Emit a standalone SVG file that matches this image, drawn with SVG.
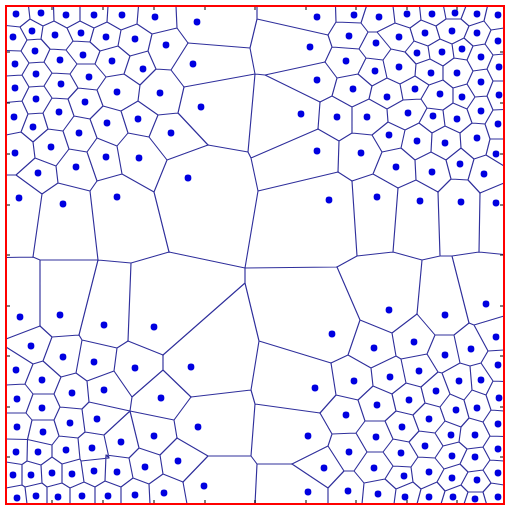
<svg xmlns="http://www.w3.org/2000/svg" width="506" height="507" viewBox="0 0 506 507">
<style>
.e{fill:none;stroke:#30309c;stroke-width:1.15;stroke-linecap:round}
.s circle{fill:#0000e0}
.t{fill:none;stroke:#000;stroke-width:1}
</style>
<defs><circle id="d" r="3.4"/></defs>
<rect width="506" height="507" fill="#fff"/>
<g id="cells">
<path class="e" id="cells-tl" d="M20 27L6 25.5M20 27L30 19M30 19L28.5 6M30 19L43 26M43 26L54 21M54 21L53.5 6M54 21L67 28M67 28L80 21M80 21L80 6M80 21L94 28M94 28L107 22M107 22L108 6M107 22L121 30M121 30L137 24M137 24L138.5 6M137 24L152 34M152 34L177 28M177 28L176 6M152 34L148 51M177 28L188 43M188 43L171 70M148 51L156 69M171 70L156 69M20 27L27 40M27 40L41 39M43 26L41 39M27 40L21 51M21 51L6 50.5M41 39L50 49M50 49L66 50M73 41L66 50M67 28L73 41M73 41L90 42M94 28L90 42M90 42L100 51M100 51L118 46M121 30L118 46M118 46L130 56M130 56L148 51M21 51L29 63M50 49L44 62M29 63L44 62M44 62L52 73M52 73L70 74M70 74L77 64M66 50L77 64M77 64L95 64M100 51L95 64M95 64L106 77M106 77L124 74M130 56L124 74M124 74L140 85M156 69L140 85M29 63L22 75M22 75L6 76M22 75L29 87M29 87L44 86M52 73L44 86M44 86L52 98M52 98L68 99M68 99L78 88M70 74L78 88M78 88L97 90M106 77L97 90M97 90L103 106M103 106L121 111M121 111L138 101M140 85L138 101M138 101L158 115M158 115L178 113M178 113L184 87M184 87L171 70M29 87L22 101M22 101L6 102.5M22 101L28 114M28 114L43 113M52 98L43 113M43 113L48 129M48 129L63 131M63 131L74 116M68 99L74 116M74 116L90 119M103 106L90 119M90 119L97 138M97 138L117 146M117 146L128 133M121 111L128 133M128 133L149 137M158 115L149 137M28 114L21 132M21 132L6 135M21 132L33 142M48 129L33 142M33 142L35 158M35 158L56 166M56 166L69 149M63 131L69 149M69 149L87 152M97 138L87 152M87 152L97 181M97 181L122 174M117 146L122 174M122 174L154 192M154 192L167 160M149 137L167 160M167 160L208 145M178 113L208 145M35 158L16 175M16 175L6 175M16 175L42 194M42 194L58 183M56 166L58 183M58 183L90 191M90 191L97 181M42 194L33 257M90 191L98 260M154 192L169 252"/>
<path class="e" id="cells-tr" d="M336 22L335.5 6M336 22L328 35M336 22L361 23M361 23L366.5 6M361 23L368 32M368 32L359 49M368 32L377 32M377 32L391 49M377 32L395 23M395 23L393 6M395 23L410 28M410 28L414 41M410 28L421 20M421 20L419.5 6M421 20L436 26M436 26L440 39M436 26L446 19M446 19L443.5 6M446 19L461 19M461 19L466 6M461 19L469 26M469 26L464 38M469 26L484 21M484 21L487.5 6M484 21L491 30M491 30L504 28M491 30L485 44M328 35L332 47M332 47L325 62M332 47L359 49M359 49L366 58M366 58L383 60M366 58L358 74M391 49L383 60M391 49L405 52M383 60L387 78M405 52L414 41M405 52L416 64M414 41L428 46M428 46L440 39M428 46L430 59M440 39L452 44M452 44L464 38M452 44L454 58M464 38L473 46M473 46L485 44M473 46L467 60M485 44L493 55M493 55L504 54M493 55L487 69M358 74L337 78M358 74L372 86M372 86L387 78M372 86L369 99M387 78L400 84M400 84L415 76M400 84L403 100M416 64L415 76M416 64L430 59M415 76L429 85M430 59L443 66M443 66L454 58M443 66L443 80M454 58L467 60M467 60L473 71M473 71L487 69M473 71L467 84M487 69L493 81M493 81L504 81M493 81L487 96M443 80L429 85M443 80L453 88M429 85L421 99M453 88L467 84M453 88L453 103M467 84L475 97M487 96L475 97M487 96L493 110M493 110L504 109.5M475 97L467 109M325 62L337 78M337 78L332 96M332 96L352 107M332 96L320 102M320 102L318 129M352 107L369 99M352 107L352 133M369 99L387 109M387 109L403 100M387 109L388 122M403 100L421 99M421 99L427 108M427 108L419 123M427 108L443 110M453 103L443 110M453 103L467 109M443 110L445 126M467 109L472 123M493 110L485 124M485 124L490 139M490 139L504 139M352 133L372 135M352 133L339 141M372 135L388 122M372 135L382 152M388 122L405 130M405 130L419 123M405 130L401 148M419 123L432 133M432 133L445 126M432 133L431 152M445 126L460 133M460 133L472 123M460 133L461 148M472 123L485 124M490 139L486 155M382 152L373 174M382 152L401 148M401 148L415 160M415 160L431 152M415 160L416 180M431 152L446 160M446 160L461 148M446 160L451 179M461 148L474 159M474 159L486 155M474 159L468 180M486 155L504 166M373 174L352 181M373 174L398 188M352 181L338 172M338 172L339 141M339 141L318 129M398 188L416 180M416 180L438 192M438 192L451 179M451 179L468 180M468 180L480 193M480 193L504 183"/>
<path class="e" id="cells-center" d="M257 6L257 19M257 19L328 35M257 19L250 48M250 48L188 43M250 48L255 74M255 74L184 87M255 74L265 75M265 75L325 62M265 75L320 102M255 74L248 152M248 152L208 145M248 152L251 158M251 158L318 129M251 158L258 191M258 191L338 172M258 191L245 268M245 268L169 252M245 268L337 267M245 268L245 283M245 283L163 355M245 283L259 341M259 341L331 363M259 341L251 390M251 390L191 397M251 390L255 404M255 404L320 413M255 404L251 456M251 456L208 456M251 456L257 464M257 464L292 464M257 464L255 504M208 456L177 438M208 456L183 482M337 267L357 256M357 256L352 181M357 256L393 252M393 252L398 188M393 252L422 260M422 260L417 314M422 260L440 256M440 256L438 192M440 256L452 256M452 256L469 323M452 256L479 252M479 252L480 193M479 252L504 254.5M169 252L131 263M131 263L128 341M131 263L98 260M98 260L79 335M98 260L40 260M40 260L40 326M40 260L33 257M33 257L6 257.5"/>
<path class="e" id="cells-bl" d="M40 326L6 339M40 326L52 337M52 337L43 361M52 337L79 335M79 335L82 340M82 340L117 348M82 340L76 373M117 348L128 341M117 348L114 371M128 341L163 355M163 355L163 370M163 370L191 397M163 370L132 397M33 364L6 347M33 364L43 361M33 364L25 384M43 361L61 377M61 377L76 373M61 377L54 394M76 373L87 381M87 381L114 371M87 381L89 402M114 371L132 397M132 397L130 411M130 411L104 435M130 411L89 402M130 411L139 448M130 411L174 420M174 420L177 438M174 420L191 397M177 438L160 455M160 455L139 448M160 455L163 474M163 474L183 482M183 482L187 504M163 474L149 484M25 384L6 385M25 384L33 394M33 394L54 394M33 394L26 413M54 394L60 407M60 407L82 409M60 407L54 420M82 409L89 402M82 409L85 432M26 413L6 413M26 413L32 420M32 420L54 420M32 420L27.5 439.5M54 420L59 436M59 436L52 445M59 436L78 438M78 438L80 459M78 438L85 432M85 432L104 435M104 435L109 458M27.5 439.5L6 439M27.5 439.5L27 461M27.5 439.5L52 445M52 445L52 457M22 464.5L6 462M22 464.5L27 461M22 464.5L22 485M27 461L41 465M41 465L52 457M41 465L42 483M52 457L62 464M62 464L80 459M62 464L62 483M80 459L81 461M81 461L84 482M81 461L109 458M109 458L106 455M106 455L129 458M106 455L105 481M129 458L133 478M129 458L139 448M133 478L149 484M133 478L121 487M149 484L150 504M105 481L121 487M105 481L95 487M121 487L121 504M84 482L70 488M84 482L95 487M95 487L95 504M62 483L47 487M62 483L70 488M70 488L70 504M42 483L25 487M42 483L47 487M47 487L47 504M22 485L6 488M22 485L25 487M25 487L27 504"/>
<path class="e" id="cells-br" d="M337 267L360 320M360 320L392 333M360 320L348 355M392 333L417 314M392 333L396 356M417 314L435 335M435 335L454 335M435 335L427 354M454 335L469 323M454 335L460 363M469 323L474 325M474 325L504 316M474 325L488 351M488 351L504 350M488 351L481 363M481 363L493 381M481 363L470 366M460 363L470 366M460 363L442 373M470 366L472 390M427 354L401 359M427 354L438 372M438 372L442 373M438 372L421 387M442 373L450 394M396 356L371 368M396 356L401 359M401 359L406 383M348 355L331 363M348 355L371 368M371 368L373 386M331 363L336 395M373 386L358 400M373 386L392 394M392 394L406 383M392 394L396 411M406 383L421 387M421 387L425 403M358 400L336 395M358 400L365 421M336 395L320 413M365 421L356 433M365 421L385 421M385 421L396 411M385 421L393 439M396 411L413 415M413 415L425 403M413 415L419 431M425 403L440 407M440 407L450 394M440 407L445 421M450 394L464 400M464 400L472 390M464 400L469 418M472 390L486 395M486 395L493 381M486 395L491 410M493 381L504 381.5M491 410L504 411M491 410L483 422M483 422L469 418M483 422L490 436M490 436L504 436.5M490 436L483 447M469 418L461 427M461 427L445 421M461 427L459 442M445 421L435 433M435 433L443 446M435 433L419 431M419 431L409 442M409 442L418 457M409 442L393 439M393 439L383 452M356 433L367 452M356 433L332 434M332 434L320 413M332 434L328 446M367 452L354 471M367 452L383 452M383 452L393 466M393 466L411 467M393 466L385 479M443 446L459 442M443 446L435 458M435 458L444 469M435 458L418 457M418 457L411 467M411 467L413 482M459 442L467 449M467 449L483 447M467 449L460 464M483 447L490 460M490 460L504 461M490 460L483 470M460 464L444 469M460 464L468 472M468 472L483 470M468 472L461 485M483 470L491 483M444 469L437 482M385 479L364 483M385 479L396 489M396 489L413 482M396 489L394 504M413 482L421 489M421 489L417 504M421 489L437 482M437 482L445 491M445 491L441 504M445 491L461 485M461 485L468 492M468 492L464 504M468 492L483 492M491 483L483 492M491 483L504 485M483 492L486.5 504M354 471L344 471M354 471L364 483M364 483L362 504M344 471L328 446M344 471L328 488M328 488L328 504M328 488L292 464M328 446L292 464"/>
</g>
<g id="sites" class="s">
<circle cx="16" cy="14" r="3.4"/><circle cx="41" cy="13" r="3.4"/><circle cx="66" cy="15" r="3.4"/><circle cx="94" cy="15" r="3.4"/><circle cx="122" cy="15" r="3.4"/><circle cx="155" cy="17" r="3.4"/><circle cx="13" cy="37" r="3.4"/><circle cx="32" cy="31" r="3.4"/><circle cx="55" cy="35" r="3.4"/><circle cx="81" cy="33" r="3.4"/><circle cx="106" cy="37" r="3.4"/><circle cx="135" cy="39" r="3.4"/><circle cx="166" cy="45" r="3.4"/><circle cx="35" cy="51" r="3.4"/><circle cx="60" cy="60" r="3.4"/><circle cx="83" cy="55" r="3.4"/><circle cx="112" cy="61" r="3.4"/><circle cx="143" cy="69" r="3.4"/><circle cx="15" cy="64" r="3.4"/><circle cx="36" cy="74" r="3.4"/><circle cx="61" cy="84" r="3.4"/><circle cx="89" cy="77" r="3.4"/><circle cx="117" cy="92" r="3.4"/><circle cx="160" cy="93" r="3.4"/><circle cx="15" cy="88" r="3.4"/><circle cx="36" cy="99" r="3.4"/><circle cx="59" cy="112" r="3.4"/><circle cx="85" cy="102" r="3.4"/><circle cx="107" cy="123" r="3.4"/><circle cx="138" cy="119" r="3.4"/><circle cx="14" cy="117" r="3.4"/><circle cx="33" cy="127" r="3.4"/><circle cx="79" cy="133" r="3.4"/><circle cx="51" cy="147" r="3.4"/><circle cx="15" cy="153" r="3.4"/><circle cx="76" cy="167" r="3.4"/><circle cx="106" cy="157" r="3.4"/><circle cx="139" cy="158" r="3.4"/><circle cx="197" cy="22" r="3.4"/><circle cx="193" cy="64" r="3.4"/><circle cx="201" cy="107" r="3.4"/><circle cx="171" cy="133" r="3.4"/><circle cx="38" cy="173" r="3.4"/><circle cx="63" cy="204" r="3.4"/><circle cx="19" cy="198" r="3.4"/><circle cx="117" cy="197" r="3.4"/><circle cx="188" cy="178" r="3.4"/>
<circle cx="317" cy="17" r="3.4"/><circle cx="310" cy="47" r="3.4"/><circle cx="317" cy="80" r="3.4"/><circle cx="301" cy="114" r="3.4"/><circle cx="337" cy="117" r="3.4"/><circle cx="317" cy="151" r="3.4"/>
<circle cx="354" cy="15" r="3.4"/><circle cx="379" cy="17" r="3.4"/><circle cx="407" cy="14" r="3.4"/><circle cx="432" cy="14" r="3.4"/><circle cx="455" cy="13" r="3.4"/><circle cx="477" cy="14" r="3.4"/><circle cx="498" cy="15" r="3.4"/><circle cx="349" cy="36" r="3.4"/><circle cx="376" cy="43" r="3.4"/><circle cx="399" cy="37" r="3.4"/><circle cx="425" cy="33" r="3.4"/><circle cx="452" cy="31" r="3.4"/><circle cx="477" cy="33" r="3.4"/><circle cx="498" cy="41" r="3.4"/><circle cx="346" cy="61" r="3.4"/><circle cx="375" cy="71" r="3.4"/><circle cx="399" cy="67" r="3.4"/><circle cx="417" cy="53" r="3.4"/><circle cx="442" cy="52" r="3.4"/><circle cx="462" cy="49" r="3.4"/><circle cx="481" cy="57" r="3.4"/><circle cx="499" cy="67" r="3.4"/><circle cx="353" cy="89" r="3.4"/><circle cx="387" cy="97" r="3.4"/><circle cx="415" cy="89" r="3.4"/><circle cx="431" cy="73" r="3.4"/><circle cx="457" cy="73" r="3.4"/><circle cx="481" cy="82" r="3.4"/><circle cx="440" cy="94" r="3.4"/><circle cx="462" cy="97" r="3.4"/><circle cx="499" cy="95" r="3.4"/><circle cx="367" cy="117" r="3.4"/><circle cx="408" cy="113" r="3.4"/><circle cx="433" cy="116" r="3.4"/><circle cx="457" cy="119" r="3.4"/><circle cx="481" cy="111" r="3.4"/><circle cx="498" cy="124" r="3.4"/><circle cx="361" cy="153" r="3.4"/><circle cx="389" cy="135" r="3.4"/><circle cx="417" cy="141" r="3.4"/><circle cx="445" cy="143" r="3.4"/><circle cx="477" cy="138" r="3.4"/><circle cx="496" cy="154" r="3.4"/><circle cx="396" cy="167" r="3.4"/><circle cx="432" cy="172" r="3.4"/><circle cx="460" cy="164" r="3.4"/><circle cx="484" cy="174" r="3.4"/><circle cx="377" cy="197" r="3.4"/><circle cx="420" cy="201" r="3.4"/><circle cx="461" cy="202" r="3.4"/><circle cx="496" cy="203" r="3.4"/><circle cx="329" cy="200" r="3.4"/>
<circle cx="389" cy="310" r="3.4"/><circle cx="445" cy="315" r="3.4"/><circle cx="486" cy="304" r="3.4"/><circle cx="332" cy="334" r="3.4"/><circle cx="374" cy="348" r="3.4"/><circle cx="414" cy="342" r="3.4"/><circle cx="445" cy="355" r="3.4"/><circle cx="471" cy="349" r="3.4"/><circle cx="496" cy="337" r="3.4"/><circle cx="498" cy="365" r="3.4"/><circle cx="354" cy="381" r="3.4"/><circle cx="390" cy="377" r="3.4"/><circle cx="419" cy="371" r="3.4"/><circle cx="459" cy="381" r="3.4"/><circle cx="481" cy="380" r="3.4"/><circle cx="377" cy="405" r="3.4"/><circle cx="409" cy="400" r="3.4"/><circle cx="436" cy="391" r="3.4"/><circle cx="456" cy="410" r="3.4"/><circle cx="477" cy="408" r="3.4"/><circle cx="499" cy="398" r="3.4"/><circle cx="346" cy="415" r="3.4"/><circle cx="402" cy="427" r="3.4"/><circle cx="429" cy="419" r="3.4"/><circle cx="498" cy="424" r="3.4"/><circle cx="376" cy="437" r="3.4"/><circle cx="425" cy="446" r="3.4"/><circle cx="451" cy="435" r="3.4"/><circle cx="475" cy="435" r="3.4"/><circle cx="498" cy="449" r="3.4"/><circle cx="349" cy="452" r="3.4"/><circle cx="401" cy="453" r="3.4"/><circle cx="452" cy="456" r="3.4"/><circle cx="475" cy="457" r="3.4"/><circle cx="374" cy="468" r="3.4"/><circle cx="404" cy="476" r="3.4"/><circle cx="429" cy="472" r="3.4"/><circle cx="452" cy="478" r="3.4"/><circle cx="477" cy="480" r="3.4"/><circle cx="498" cy="473" r="3.4"/><circle cx="348" cy="491" r="3.4"/><circle cx="378" cy="494" r="3.4"/><circle cx="405" cy="497" r="3.4"/><circle cx="429" cy="497" r="3.4"/><circle cx="453" cy="497" r="3.4"/><circle cx="475" cy="499" r="3.4"/><circle cx="498" cy="497" r="3.4"/><circle cx="315" cy="388" r="3.4"/><circle cx="308" cy="436" r="3.4"/><circle cx="324" cy="468" r="3.4"/><circle cx="308" cy="492" r="3.4"/>
<circle cx="20" cy="317" r="3.4"/><circle cx="60" cy="315" r="3.4"/><circle cx="104" cy="325" r="3.4"/><circle cx="154" cy="327" r="3.4"/><circle cx="31" cy="346" r="3.4"/><circle cx="63" cy="357" r="3.4"/><circle cx="94" cy="362" r="3.4"/><circle cx="135" cy="368" r="3.4"/><circle cx="191" cy="367" r="3.4"/><circle cx="16" cy="370" r="3.4"/><circle cx="42" cy="380" r="3.4"/><circle cx="72" cy="393" r="3.4"/><circle cx="104" cy="390" r="3.4"/><circle cx="161" cy="398" r="3.4"/><circle cx="17" cy="399" r="3.4"/><circle cx="42" cy="408" r="3.4"/><circle cx="70" cy="423" r="3.4"/><circle cx="97" cy="419" r="3.4"/><circle cx="121" cy="442" r="3.4"/><circle cx="154" cy="436" r="3.4"/><circle cx="17" cy="427" r="3.4"/><circle cx="43" cy="432" r="3.4"/><circle cx="66" cy="450" r="3.4"/><circle cx="92" cy="448" r="3.4"/><circle cx="16" cy="452" r="3.4"/><circle cx="38" cy="452" r="3.4"/><circle cx="13" cy="475" r="3.4"/><circle cx="31" cy="475" r="3.4"/><circle cx="52" cy="473" r="3.4"/><circle cx="72" cy="474" r="3.4"/><circle cx="94" cy="471" r="3.4"/><circle cx="117" cy="472" r="3.4"/><circle cx="145" cy="467" r="3.4"/><circle cx="164" cy="493" r="3.4"/><circle cx="17" cy="498" r="3.4"/><circle cx="36" cy="496" r="3.4"/><circle cx="58" cy="497" r="3.4"/><circle cx="82" cy="496" r="3.4"/><circle cx="108" cy="496" r="3.4"/><circle cx="135" cy="495" r="3.4"/><circle cx="198" cy="427" r="3.4"/><circle cx="178" cy="461" r="3.4"/><circle cx="204" cy="486" r="3.4"/>
</g>
<g id="frame">
<path class="t" d="M52 7v3M103 7v3M154 7v3M205 7v3M255 7v3M306 7v3M356 7v3M407 7v3M457 7v3M52 503v-3M103 503v-3M154 503v-3M205 503v-3M255 503v-3M306 503v-3M356 503v-3M407 503v-3M457 503v-3M7 52h3M7 103h3M7 154h3M7 205h3M7 255h3M7 306h3M7 356h3M7 407h3M7 457h3M503 52h-3M503 103h-3M503 154h-3M503 205h-3M503 255h-3M503 306h-3M503 356h-3M503 407h-3M503 457h-3"/>
<rect x="6" y="6" width="498" height="498" fill="none" stroke="#f00" stroke-width="2"/>
</g>
</svg>
